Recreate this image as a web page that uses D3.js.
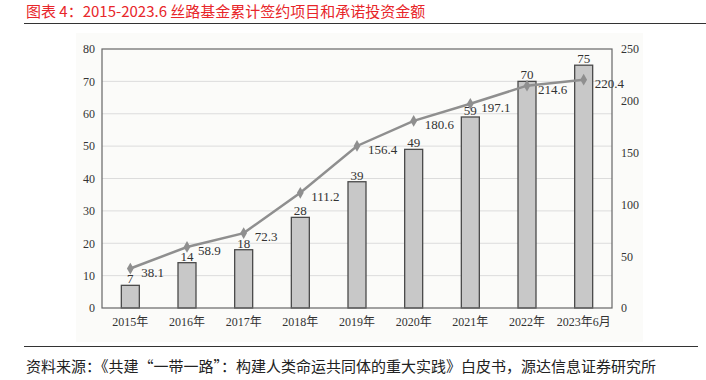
<!DOCTYPE html>
<html lang="zh">
<head>
    <meta charset="UTF-8" />
    <title>丝路基金累计签约项目和承诺投资金额</title>
    <script src="https://d3js.org/d3.v7.min.js"></script>
    <style>
        body { margin: 0; background: #fff; }
        svg text { font-family: "Liberation Serif", "Noto Sans CJK SC", serif; }
        .cn { font-family: "Noto Sans CJK SC", sans-serif; }
    </style>
</head>
<body>
<script>
    // 数据
    const years = ['2015年', '2016年', '2017年', '2018年', '2019年', '2020年', '2021年', '2022年', '2023年6月'];
    const projects = [7, 14, 18, 28, 39, 49, 59, 70, 75];          // 签约项目（左轴）
    const investment = [38.1, 58.9, 72.3, 111.2, 156.4, 180.6, 197.1, 214.6, 220.4]; // 承诺投资（右轴）
    const leftTicks = [0, 10, 20, 30, 40, 50, 60, 70, 80];
    const rightTicks = [0, 50, 100, 150, 200, 250];

    const width = 706, height = 380;
    const plot = { left: 102, right: 612, top: 49, bottom: 308 };

    const svg = d3.select('body').append('svg').attr('width', width).attr('height', height);

    // 标题
    svg.append('text').attr('class', 'cn')
        .attr('x', 26).attr('y', 17)
        .attr('fill', '#e8262a').attr('font-size', 15)
        .text('图表 4：2015-2023.6 丝路基金累计签约项目和承诺投资金额');
    svg.append('line').attr('x1', 24).attr('x2', 706).attr('y1', 23.5).attr('y2', 23.5)
        .attr('stroke', '#333').attr('stroke-width', 1.2);

    // 图片底色
    svg.append('rect').attr('x', 76).attr('y', 33).attr('width', 567).attr('height', 309)
        .attr('fill', '#fbfbf9');

    const x = d3.scaleBand().domain(years).range([plot.left, plot.right]);
    const yL = d3.scaleLinear().domain([0, 80]).range([plot.bottom, plot.top]);
    const yR = d3.scaleLinear().domain([0, 250]).range([plot.bottom, plot.top]);

    // 网格线
    svg.append('g').selectAll('line').data(leftTicks.slice(1, -1)).join('line')
        .attr('x1', plot.left).attr('x2', plot.right)
        .attr('y1', d => yL(d)).attr('y2', d => yL(d))
        .attr('stroke', '#dcdcdc').attr('stroke-width', 1);

    // 坐标轴
    const axisL = svg.append('g').attr('transform', `translate(${plot.left},0)`)
        .call(d3.axisLeft(yL).tickValues(leftTicks).tickSize(0).tickPadding(7));
    const axisR = svg.append('g').attr('transform', `translate(${plot.right},0)`)
        .call(d3.axisRight(yR).tickValues(rightTicks).tickSize(0).tickPadding(9));
    const axisB = svg.append('g').attr('transform', `translate(0,${plot.bottom})`)
        .call(d3.axisBottom(x).tickSize(0).tickPadding(9));
    [axisL, axisR, axisB].forEach(g => {
        g.select('.domain').remove();
        g.selectAll('text').attr('fill', '#333').attr('font-size', 12);
    });

    // 柱子
    const bw = 18;
    svg.append('g').selectAll('rect').data(projects).join('rect')
        .attr('x', (d, i) => x(years[i]) + x.bandwidth() / 2 - bw / 2)
        .attr('y', d => yL(d))
        .attr('width', bw)
        .attr('height', d => plot.bottom - yL(d))
        .attr('fill', '#c8c8c8').attr('stroke', '#4a4a4a').attr('stroke-width', 1.3);

    svg.append('g').selectAll('text').data(projects).join('text')
        .attr('x', (d, i) => x(years[i]) + x.bandwidth() / 2)
        .attr('y', d => yL(d) - 2)
        .attr('text-anchor', 'middle').attr('font-size', 13).attr('fill', '#333')
        .text(d => d);

    // 外框
    svg.append('rect').attr('x', plot.left).attr('y', plot.top)
        .attr('width', plot.right - plot.left).attr('height', plot.bottom - plot.top)
        .attr('fill', 'none').attr('stroke', '#666').attr('stroke-width', 1.2);

    // 折线
    const cx = i => x(years[i]) + x.bandwidth() / 2;
    const line = d3.line().x((d, i) => cx(i)).y(d => yR(d));
    svg.append('path').datum(investment)
        .attr('d', line).attr('fill', 'none')
        .attr('stroke', '#8f8f8f').attr('stroke-width', 2.5);

    svg.append('g').selectAll('path').data(investment).join('path')
        .attr('transform', (d, i) => `translate(${cx(i)},${yR(d)})`)
        .attr('d', d3.symbol(d3.symbolDiamond, 40))
        .attr('fill', '#8f8f8f');

    svg.append('g').selectAll('text').data(investment).join('text')
        .attr('x', (d, i) => cx(i) + 11)
        .attr('y', d => yR(d) + 8)
        .attr('font-size', 13).attr('fill', '#333')
        .text(d => d);

    // 资料来源
    svg.append('line').attr('x1', 24).attr('x2', 698).attr('y1', 346.5).attr('y2', 346.5)
        .attr('stroke', '#333').attr('stroke-width', 1);
    svg.append('text').attr('class', 'cn')
        .attr('x', 26).attr('y', 372)
        .attr('fill', '#222').attr('font-size', 15)
        .text('资料来源：《共建“一带一路”：构建人类命运共同体的重大实践》白皮书，源达信息证券研究所');
</script>
</body>
</html>
